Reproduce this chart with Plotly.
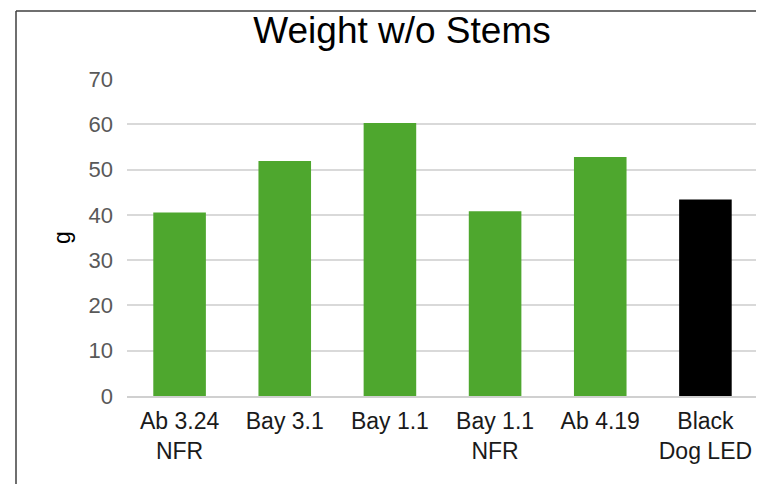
import plotly.graph_objects as go

categories = ["Ab 3.24<br>NFR", "Bay 3.1", "Bay 1.1", "Bay 1.1<br>NFR", "Ab 4.19", "Black<br>Dog LED"]
weights = [40.5, 51.9, 60.3, 40.8, 52.8, 43.4]
bar_colors = ["#4ea72e", "#4ea72e", "#4ea72e", "#4ea72e", "#4ea72e", "#000000"]
y_ticks = [0, 10, 20, 30, 40, 50, 60, 70]

FONT = "Liberation Sans, Arial, sans-serif"
OFF = 8  # page body margin offset
W, H = 764 - OFF, 484 - OFF

# target plot area in screen pixels
PL, PR, PT, PB = 127, 758, 79, 396
pw, ph = PR - PL, PB - PT

fig = go.Figure(
    go.Bar(
        x=categories,
        y=weights,
        marker=dict(color=bar_colors, line=dict(width=0)),
        hoverinfo="x+y",
    )
)

bx = (16 - PL) / pw
by = (PB - 11) / ph
bx_right = (764 - PL) / pw
by_bottom = (PB - 484) / ph

fig.update_layout(
    width=W,
    height=H,
    margin=dict(l=PL - OFF, r=W - (PR - OFF), t=PT - OFF, b=H - (PB - OFF)),
    paper_bgcolor="white",
    plot_bgcolor="white",
    bargap=0.5,
    showlegend=False,
    font=dict(family=FONT, size=22, color="#595959"),
    title=dict(
        text="Weight w/o Stems",
        font=dict(family=FONT, size=37, color="#000000"),
        x=(402 - OFF) / W,
        xref="container",
        xanchor="center",
        y=1 - (30 - OFF) / H,
        yref="container",
        yanchor="middle",
    ),
    shapes=[
        dict(type="line", xref="paper", yref="paper",
             x0=bx, x1=bx_right, y0=by, y1=by,
             line=dict(color="#3f3f3f", width=1.5)),
        dict(type="line", xref="paper", yref="paper",
             x0=bx, x1=bx, y0=by, y1=by_bottom,
             line=dict(color="#3f3f3f", width=1.5)),
    ],
)

fig.update_xaxes(
    showline=True,
    linecolor="#d0d0d0",
    linewidth=1.5,
    showgrid=False,
    ticks="",
    ticklabelstandoff=4,
    tickfont=dict(family=FONT, size=23, color="#1a1a1a"),
    fixedrange=True,
)

fig.update_yaxes(
    range=[0, 70],
    tickvals=y_ticks,
    showgrid=True,
    gridcolor="#d9d9d9",
    gridwidth=1.5,
    zeroline=False,
    showline=False,
    ticks="",
    ticklabelstandoff=13,
    tickfont=dict(family=FONT, size=22, color="#595959"),
    title=dict(text="g", font=dict(family=FONT, size=23, color="#000000"), standoff=11),
    fixedrange=True,
)

fig.write_html("out.html", config={"displayModeBar": False})
